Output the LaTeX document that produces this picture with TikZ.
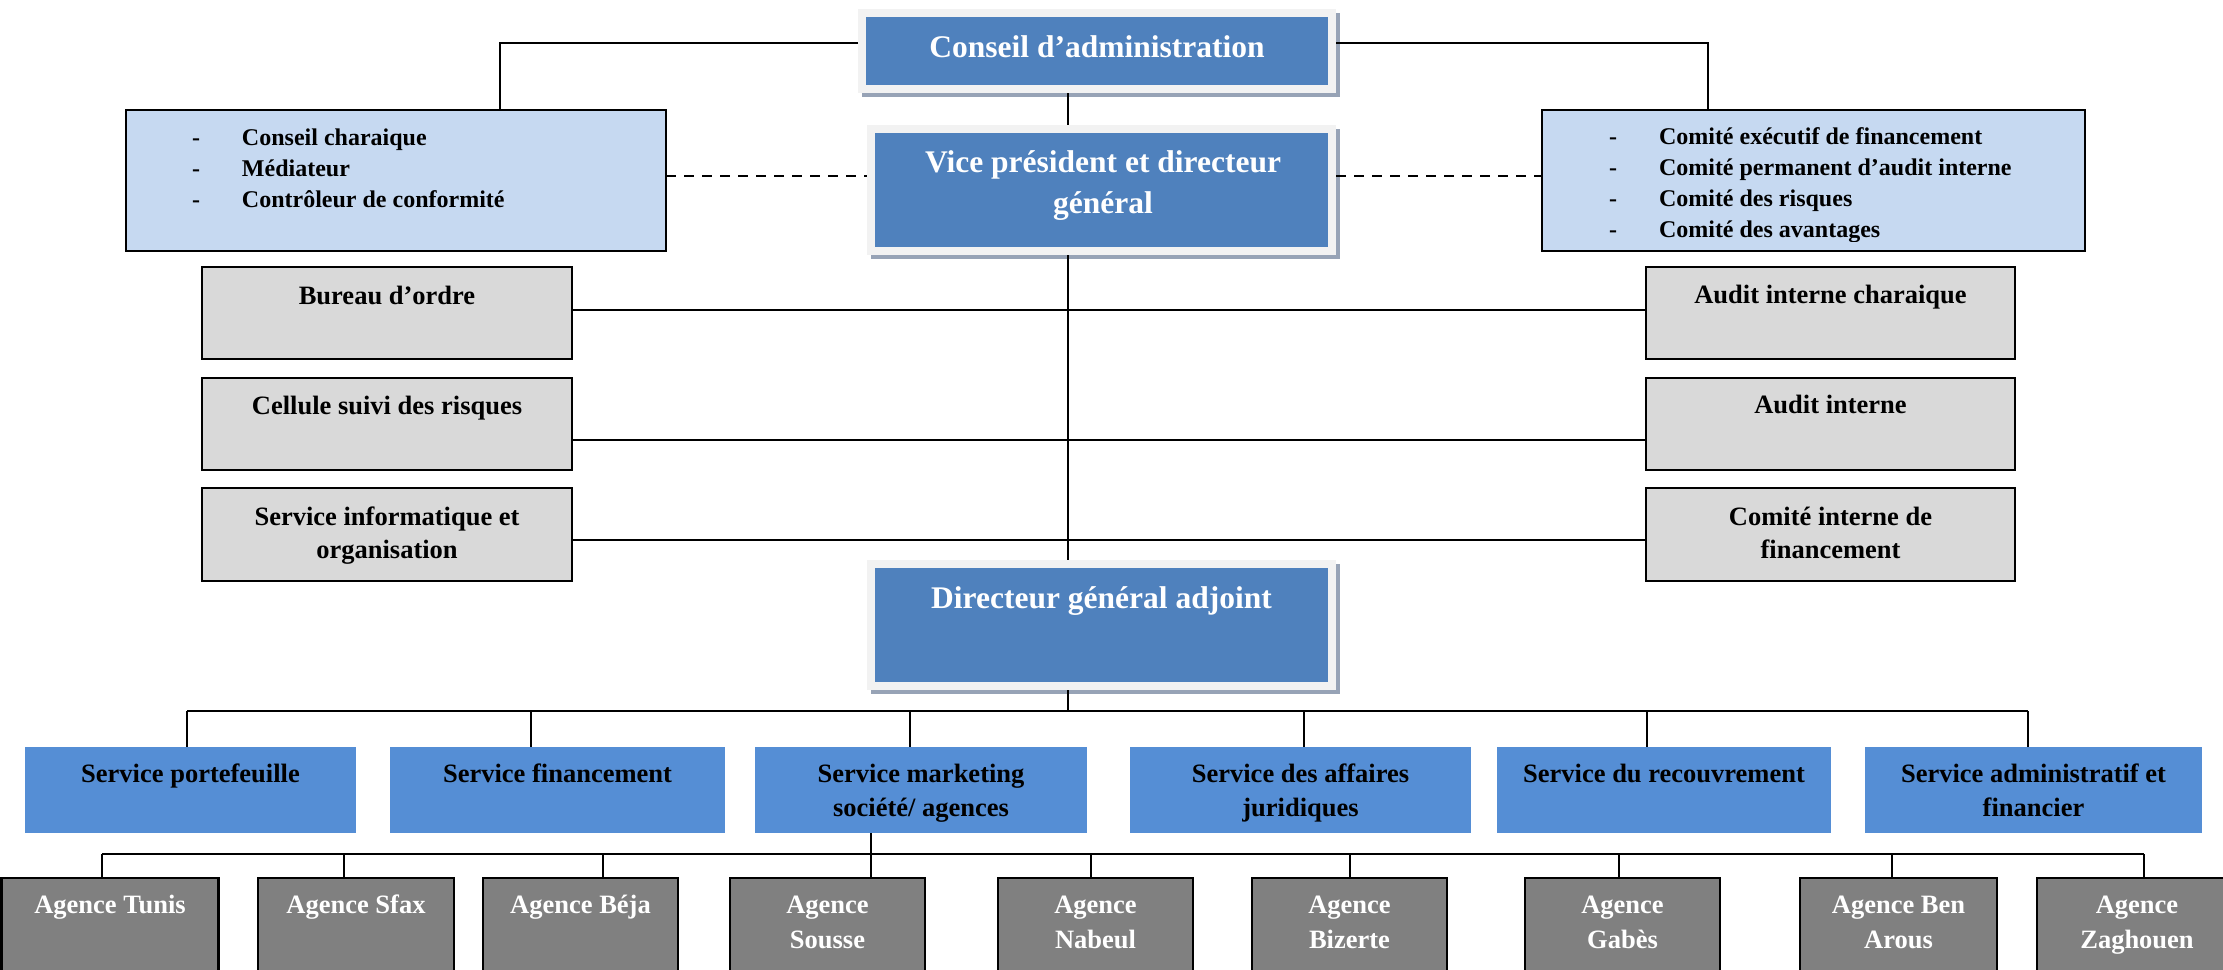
\documentclass[tikz,border=0pt]{standalone}
\usepackage{fontspec}
\setmainfont{Liberation Serif}
\usetikzlibrary{calc,shadows}

\definecolor{topblue}{HTML}{4F81BD}
\definecolor{svcblue}{HTML}{558ED5}
\definecolor{paleblue}{HTML}{C6D9F1}
\definecolor{panelgrey}{HTML}{D9D9D9}
\definecolor{agencygrey}{HTML}{808080}
\definecolor{framegrey}{HTML}{F2F2F2}
\definecolor{shadowgrey}{HTML}{97A3B6}

% two centred lines whose first baseline is the node's base
\newcommand{\twolines}[2]{\begin{tabular}[t]{@{}c@{}}#1\\#2\end{tabular}}
\newcommand{\dashitem}[1]{\makebox[50pt][l]{-}#1}

\begin{document}
\begin{tikzpicture}[x=1pt,y=-1pt,
  every node/.style={inner sep=0pt,outer sep=0pt},
  conn/.style={draw=black,line width=2.5pt},
  dashconn/.style={conn,dash pattern=on 10pt off 8pt},
  headbox/.style={anchor=north west,fill=framegrey,
    drop shadow={shadow xshift=4pt,shadow yshift=-4pt,fill=shadowgrey,opacity=1},
    path picture={\fill[topblue]
      ([shift={(8pt,-8pt)}]path picture bounding box.north west) rectangle
      ([shift={(-8pt,8pt)}]path picture bounding box.south east);}},
  headtext/.style={anchor=base,text=white,font=\bfseries\fontsize{31.5pt}{41pt}\selectfont},
  listbox/.style={anchor=north west,draw=black,line width=2.5pt,fill=paleblue},
  listtext/.style={anchor=base west,font=\bfseries\fontsize{24pt}{31.2pt}\selectfont},
  staffbox/.style={anchor=north west,draw=black,line width=2.5pt,fill=panelgrey},
  stafftext/.style={anchor=base,font=\bfseries\fontsize{26.5pt}{33.5pt}\selectfont},
  svcbox/.style={anchor=north west,fill=svcblue},
  svctext/.style={anchor=base,font=\bfseries\fontsize{26.5pt}{34pt}\selectfont},
  agbox/.style={anchor=north west,draw=black,line width=2.5pt,fill=agencygrey},
  agtext/.style={anchor=base,text=white,font=\bfseries\fontsize{26.5pt}{35pt}\selectfont},
]
\useasboundingbox[fill=white] (0,0) rectangle (2223,969);

% --- board and general management ---
\node[headbox,minimum width=478pt,minimum height=84pt] (conseil) at (858,9) {};
\node[headbox,minimum width=469pt,minimum height=130pt] (vice) at (867,125) {};
\node[headbox,minimum width=469pt,minimum height=130pt] (dga) at (867,560) {};
\node[headtext] (conseilT) at ($(conseil.north)+(0,48)$) {Conseil d’administration};
\node[headtext] (viceT) at ($(vice.north)+(1.5,47)$) {\twolines{Vice président et directeur}{général}};
\node[headtext] (dgaT) at ($(dga.north)+(0,48)$) {Directeur général adjoint};

% --- committees ---
\node[listbox,minimum width=540pt,minimum height=141pt] (lb) at (126,110) {};
\node[listbox,minimum width=543pt,minimum height=141pt] (rb) at (1542,110) {};
\node[listtext] (lbT) at ($(lb.north west)+(66,35)$)
  {\begin{tabular}[t]{@{}l@{}}\dashitem{Conseil charaique}\\\dashitem{Médiateur}\\\dashitem{Contrôleur de conformité}\end{tabular}};
\begin{scope}
  \clip (rb.north west) rectangle ($(rb.south east)+(0,-10)$);
  \node[listtext] (rbT) at ($(rb.north west)+(67,34)$)
    {\begin{tabular}[t]{@{}l@{}}\dashitem{Comité exécutif de financement}\\\dashitem{Comité permanent d’audit interne}\\\dashitem{Comité des risques}\\\dashitem{Comité des avantages}\end{tabular}};
\end{scope}

% --- staff units ---
\node[staffbox,minimum width=370pt,minimum height=92pt] (g1) at (202,267) {};
\node[staffbox,minimum width=370pt,minimum height=92pt] (g2) at (202,378) {};
\node[staffbox,minimum width=370pt,minimum height=93pt] (g3) at (202,488) {};
\node[staffbox,minimum width=369pt,minimum height=92pt] (h1) at (1646,267) {};
\node[staffbox,minimum width=369pt,minimum height=92pt] (h2) at (1646,378) {};
\node[staffbox,minimum width=369pt,minimum height=93pt] (h3) at (1646,488) {};
\node[stafftext] (g1T) at ($(g1.north)+(0,37)$) {Bureau d’ordre};
\node[stafftext] (g2T) at ($(g2.north)+(0,36)$) {Cellule suivi des risques};
\node[stafftext] (g3T) at ($(g3.north)+(0,37)$) {\twolines{Service informatique et}{organisation}};
\node[stafftext] (h1T) at ($(h1.north)+(0,36)$) {Audit interne charaique};
\node[stafftext] (h2T) at ($(h2.north)+(0,35)$) {Audit interne};
\node[stafftext] (h3T) at ($(h3.north)+(0,37)$) {\twolines{Comité interne de}{financement}};

% --- services ---
\foreach \n/\x/\w in {sp/25/331, sf/390/335, sm/755/332, sj/1130/341, sr/1497/334, sa/1865/337}
  \node[svcbox,minimum width=\w pt,minimum height=86pt] (\n) at (\x,747) {};
\node[svctext] (spT) at ($(sp.north)+(0,35)$) {Service portefeuille};
\node[svctext] (sfT) at ($(sf.north)+(0,35)$) {Service financement};
\node[svctext] (smT) at ($(sm.north)+(0,35)$) {\twolines{Service marketing}{société/ agences}};
\node[svctext] (sjT) at ($(sj.north)+(0,35)$) {\twolines{Service des affaires}{juridiques}};
\node[svctext] (srT) at ($(sr.north)+(0,35)$) {Service du recouvrement};
\node[svctext] (saT) at ($(sa.north)+(0,35)$) {\twolines{Service administratif et}{financier}};

% --- agencies ---
\foreach \i/\x/\w in {1/1.5/217, 2/258/196, 3/483/195, 4/730/195, 5/998/195, 6/1252/195, 7/1525/195, 8/1800/197, 9/2037/200}
  \node[agbox,minimum width=\w pt,minimum height=110pt] (ag\i) at (\x,878) {};
\foreach \i/\t in {1/{Agence Tunis}, 2/{Agence Sfax}, 3/{Agence Béja},
    4/{\twolines{Agence}{Sousse}}, 5/{\twolines{Agence}{Nabeul}}, 6/{\twolines{Agence}{Bizerte}},
    7/{\twolines{Agence}{Gabès}}, 8/{\twolines{Agence Ben}{Arous}}, 9/{\twolines{Agence}{Zaghouen}}}
  \node[agtext] (ag\i T) at ($(ag\i.north)+(0,35)$) {\t};

% --- connectors ---
\coordinate (spine) at (1068,0);
\coordinate (ltop) at (500,43);
\coordinate (rtop) at (1708,43);
\coordinate (dashy) at (0,176);
\draw[conn] (conseil.south -| spine) -- (vice.north -| spine);
\draw[conn] (vice.south -| spine) -- (dga.north -| spine);
\draw[conn] (conseil.west |- ltop) -| (lb.north -| ltop);
\draw[conn] (conseil.east |- rtop) -| (rb.north -| rtop);
\draw[dashconn] (lb.east |- dashy) -- (vice.west |- dashy);
\draw[dashconn] (vice.east |- dashy) -- (rb.west |- dashy);

\coordinate (r1) at (0,310);
\coordinate (r2) at (0,440);
\coordinate (r3) at (0,540);
\draw[conn] (g1.east |- r1) -- (h1.west |- r1);
\draw[conn] (g2.east |- r2) -- (h2.west |- r2);
\draw[conn] (g3.east |- r3) -- (h3.west |- r3);

% service bus
\coordinate (sbus) at (0,711);
\draw[conn] (dga.south -| spine) -- (sbus -| spine);
\foreach \n/\x in {sp/187, sf/531, sm/910, sj/1304, sr/1647, sa/2028} {
  \coordinate (d\n) at (\x,711);
  \draw[conn] (d\n) -- (\n.north -| d\n);
}
\draw[conn] (dsp) -- (dsa);

% agency bus
\coordinate (mk) at (871,0);
\foreach \i/\x in {1/102, 2/344, 3/603, 4/871, 5/1091, 6/1350, 7/1619, 8/1892, 9/2144} {
  \coordinate (e\i) at (\x,854);
  \draw[conn] (e\i) -- (ag\i.north -| e\i);
}
\draw[conn] (e1) -- (e9);
\draw[conn] (sm.south -| mk) -- (ag4.north -| mk);
\end{tikzpicture}
\end{document}
